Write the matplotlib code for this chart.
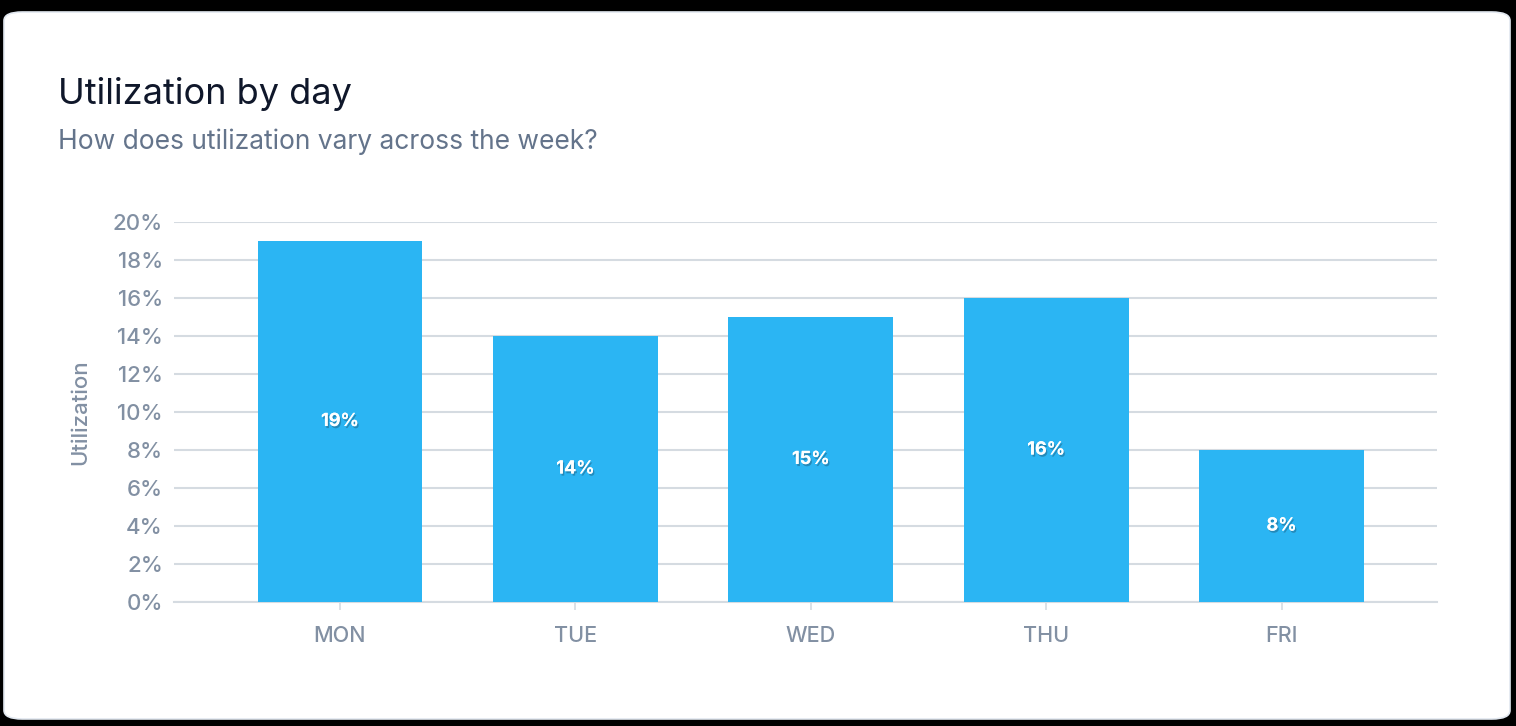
import matplotlib.pyplot as plt
import matplotlib.patheffects as pe
from matplotlib.patches import FancyBboxPatch

days = ['MON', 'TUE', 'WED', 'THU', 'FRI']
util = [19, 14, 15, 16, 8]
yticks = [0, 2, 4, 6, 8, 10, 12, 14, 16, 18, 20]

W, H = 1516, 726
fig = plt.figure(figsize=(W / 100, H / 100), dpi=100)
fig.patch.set_facecolor('black')

# white card behind everything
card = FancyBboxPatch((4 / W, (H - 719) / H), 1506 / W, 707 / H,
                      boxstyle='round,pad=0,rounding_size=0.012',
                      transform=fig.transFigure, facecolor='white',
                      edgecolor='#e2e8f0', linewidth=1.2, zorder=-10)
fig.patches.append(card)

fig.text(58 / W, 1 - 94 / H, 'Utilization by day', fontsize=26, color='#0f172a',
         family='Inter', va='center', ha='left')
fig.text(58 / W, 1 - 142 / H, 'How does utilization vary across the week?', fontsize=19,
         color='#64748b', family='Inter', va='center', ha='left')

ax = fig.add_axes([174 / W, 124 / H, 1263 / W, 380 / H])
ax.set_zorder(1)
ax.set_facecolor('none')
x = list(range(len(days)))
bars = ax.bar(x, util, width=0.70, color='#2bb5f3', zorder=3)

for i, v in enumerate(util):
    ax.text(i, v / 2, f'{v}%', ha='center', va='center', color='white',
            fontsize=13, fontweight='bold', family='Inter', zorder=4,
            path_effects=[pe.withSimplePatchShadow(offset=(1, -1.5), shadow_rgbFace='#1d5f80', alpha=0.5), pe.Normal()])

ax.set_xlim(-0.705, 4.66)
ax.set_ylim(0, 20)
ax.set_yticks(yticks)
ax.set_yticklabels([f'{t}%' for t in yticks])
ax.set_xticks(x)
ax.set_xticklabels(days)

ax.grid(axis='y', color='#d5dbe1', linewidth=1.5, zorder=0)
ax.set_axisbelow(True)
for s in ['top', 'right', 'left']:
    ax.spines[s].set_visible(False)
ax.spines['bottom'].set_color('#d5dbe1')
ax.spines['bottom'].set_linewidth(1.5)
ax.tick_params(axis='y', length=0, pad=8, labelsize=16, labelcolor='#8290a3')
ax.tick_params(axis='x', length=6, width=1.2, color='#d5dbe1', pad=11, labelsize=15.5,
               labelcolor='#8290a3')
for lab in ax.get_xticklabels() + ax.get_yticklabels():
    lab.set_family('Inter')
    lab.set_fontweight('medium')

ax.set_ylabel('Utilization', fontsize=16, color='#8290a3', family='Inter', labelpad=16,
              fontweight='medium')

fig.savefig('out.png', dpi=100, facecolor='black')
